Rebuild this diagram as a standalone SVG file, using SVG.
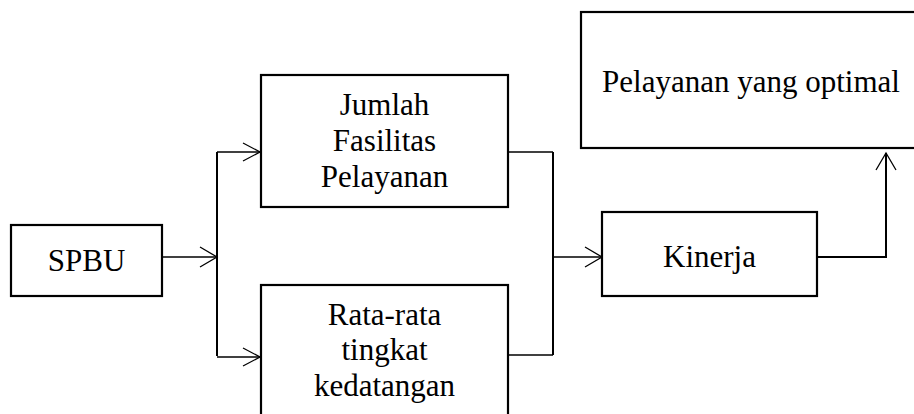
<svg xmlns="http://www.w3.org/2000/svg" width="914" height="414" viewBox="0 0 914 414">
<style>
.box{fill:#fff;stroke:#000;stroke-width:2.2}
.t{font-family:'Liberation Serif','DejaVu Serif',serif;font-size:31px;fill:#000;text-anchor:middle}
.c{fill:none;stroke:#000;stroke-width:1.3}
.bus{fill:none;stroke:#000;stroke-width:2}
.ah{fill:none;stroke:#000;stroke-width:1.3}
</style>
<rect width="914" height="414" fill="#fff"/>
<g id="connectors">
<line class="c" x1="162" y1="257" x2="217" y2="257"/>
<polyline class="ah" points="200,247 217,257 200,267"/>
<line class="bus" x1="217" y1="152" x2="217" y2="356"/>
<line class="c" x1="217" y1="152" x2="260" y2="152"/>
<polyline class="ah" points="243,143 260,152 243,161"/>
<line class="c" x1="217" y1="357" x2="260" y2="357"/>
<polyline class="ah" points="243,348 260,357 243,366"/>
<line class="c" x1="508" y1="152" x2="553" y2="152"/>
<line class="c" x1="508" y1="355" x2="553" y2="355"/>
<line class="bus" x1="553" y1="152" x2="553" y2="355"/>
<line class="c" x1="553" y1="257" x2="602" y2="257"/>
<polyline class="ah" points="585,247 602,257 585,267"/>
<polyline class="bus" points="817,257 886,257 886,153"/>
<polyline class="ah" points="876,170 886,153 896,170"/>
</g>
<g id="spbu">
<rect class="box" x="11" y="225" width="151" height="71"/>
<text class="t" font-family="Liberation Serif" x="86.5" y="271">SPBU</text>
</g>
<g id="jumlah">
<rect class="box" x="261" y="75" width="247" height="132"/>
<text class="t" font-family="Liberation Serif" x="384.5" y="115">Jumlah</text>
<text class="t" font-family="Liberation Serif" x="384.5" y="151">Fasilitas</text>
<text class="t" font-family="Liberation Serif" x="384.5" y="187">Pelayanan</text>
</g>
<g id="rata">
<rect class="box" x="261" y="285" width="247" height="140"/>
<text class="t" font-family="Liberation Serif" x="384.5" y="325">Rata-rata</text>
<text class="t" font-family="Liberation Serif" x="384.5" y="360">tingkat</text>
<text class="t" font-family="Liberation Serif" x="384.5" y="396">kedatangan</text>
</g>
<g id="kinerja">
<rect class="box" x="602" y="212" width="215" height="84"/>
<text class="t" font-family="Liberation Serif" x="709.5" y="267">Kinerja</text>
</g>
<g id="optimal">
<rect class="box" x="581" y="12" width="345" height="136"/>
<text class="t" font-family="Liberation Serif" x="751" y="92">Pelayanan yang optimal</text>
</g>
</svg>
